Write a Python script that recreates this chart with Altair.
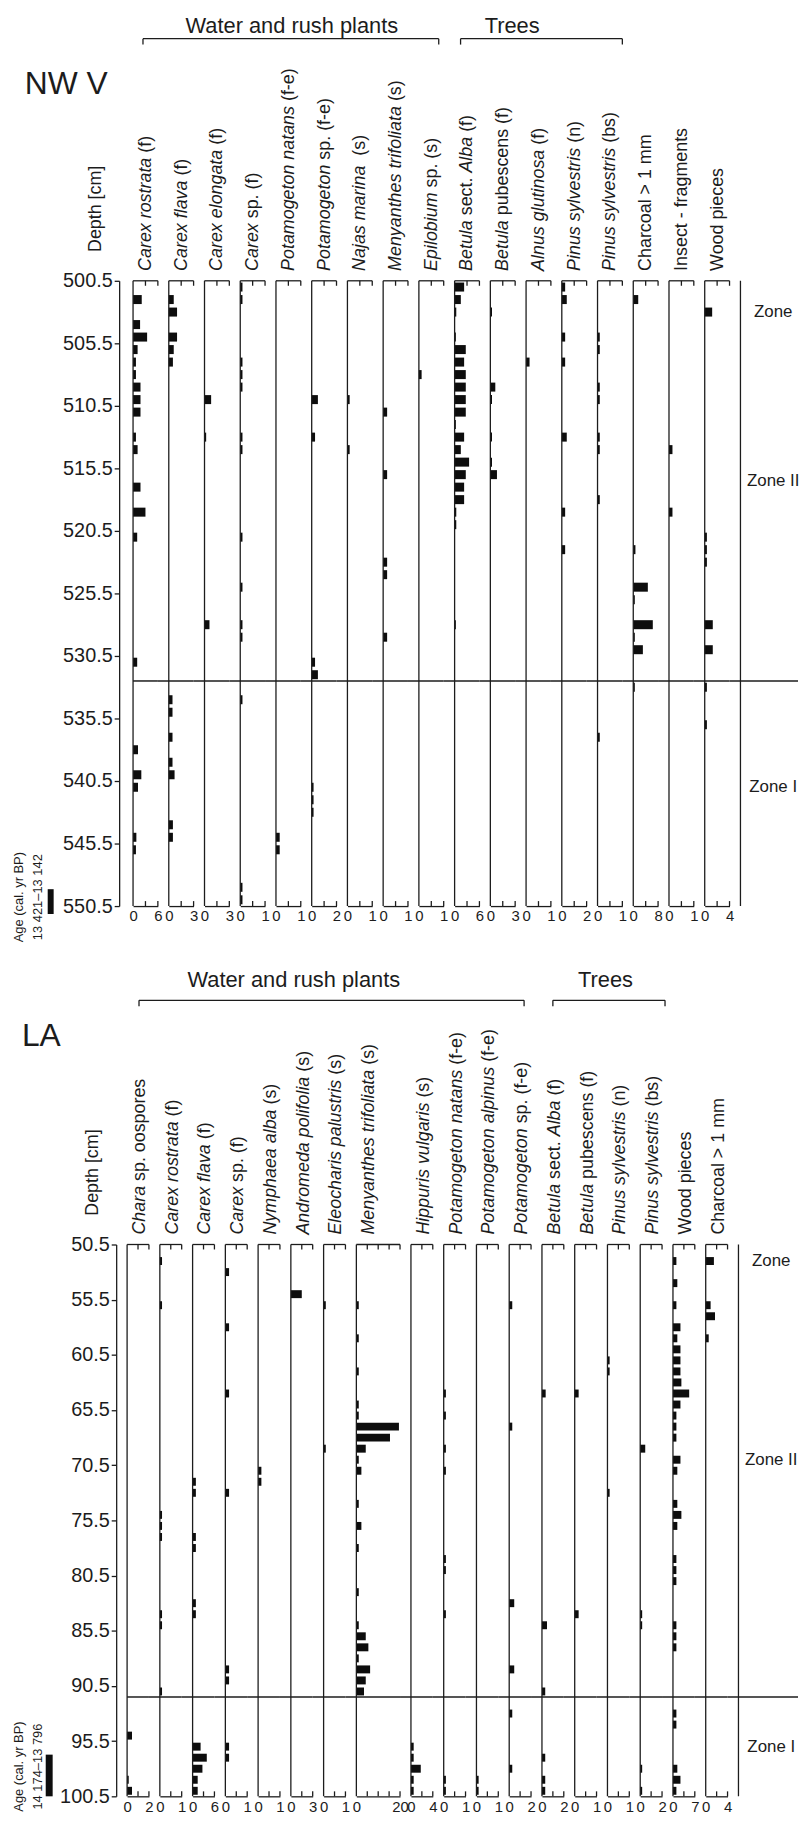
import altair as alt
import pandas as pd

FONT = "Liberation Sans"
INK = "#1c1c1c"
BAR = "#0d0d0d"

# ============================ NW V profile ============================
NWV_NAME = "NW V"
NWV_DEPTH_DOMAIN = [500.5, 550.5]
NWV_DEPTH_TICKS = [500.5, 505.5, 510.5, 515.5, 520.5, 525.5, 530.5, 535.5, 540.5, 545.5, 550.5]
NWV_ZONE_BOUNDARY = 532.5
NWV_ZONE_NAMES = ["Zone", "Zone II", "Zone I"]
NWV_ZONE_DEPTHS = [503.0, 516.5, 541.0]
NWV_AGE_TEXT = ["Age (cal. yr BP)", "13 421\u201313 142"]
NWV_GROUPS = ["Water and rush plants", "Trees"]

NWV_LABELS = [
    [("Carex rostrata", 1), (" (f)", 0)],
    [("Carex flava", 1), (" (f)", 0)],
    [("Carex elongata", 1), (" (f)", 0)],
    [("Carex", 1), (" sp. (f)", 0)],
    [("Potamogeton natans", 1), (" (f-e)", 0)],
    [("Potamogeton", 1), (" sp. (f-e)", 0)],
    [("Najas marina", 1), ("  (s)", 0)],
    [("Menyanthes trifoliata", 1), (" (s)", 0)],
    [("Epilobium", 1), (" sp. (s)", 0)],
    [("Betula", 1), (" sect. ", 0), ("Alba", 1), (" (f)", 0)],
    [("Betula", 1), (" pubescens (f)", 0)],
    [("Alnus glutinosa", 1), (" (f)", 0)],
    [("Pinus sylvestris", 1), (" (n)", 0)],
    [("Pinus sylvestris", 1), (" (bs)", 0)],
    [("Charcoal > 1 mm", 0)],
    [("Insect - fragments", 0)],
    [("Wood pieces", 0)],
]
NWV_MAX = [6, 3, 3, 1, 1, 2, 1, 1, 1, 6, 3, 1, 2, 1, 8, 1, 4]

NWV_CAREX_ROSTRATA = [(502, 2.1), (504, 1.7), (505, 3.4), (506, 1.1), (507, 0.7), (508, 0.7),
                      (509, 1.8), (510, 1.8), (511, 1.8), (513, 0.7), (514, 1.1), (517, 1.8),
                      (519, 3.0), (521, 1.0), (531, 1.0), (538, 1.2), (540, 2.0), (541, 1.2),
                      (545, 0.8), (546, 0.7)]
NWV_CAREX_FLAVA = [(502, 0.6), (503, 1.0), (505, 1.0), (506, 0.6), (507, 0.5), (534, 0.45),
                   (535, 0.45), (537, 0.45), (539, 0.45), (540, 0.7), (544, 0.5), (545, 0.5)]
NWV_CAREX_ELONGATA = [(510, 0.8), (513, 0.2), (528, 0.6)]
NWV_CAREX_SP = [(501, 0.09), (502, 0.09), (507, 0.09), (508, 0.09), (509, 0.09), (513, 0.09),
                (514, 0.09), (521, 0.09), (525, 0.09), (528, 0.09), (529, 0.09), (534, 0.09),
                (549, 0.09), (550, 0.09)]
NWV_POTAMOGETON_NATANS = [(545, 0.15), (546, 0.15)]
NWV_POTAMOGETON_SP = [(510, 0.5), (513, 0.27), (531, 0.27), (532, 0.5), (541, 0.15),
                      (542, 0.15), (543, 0.15)]
NWV_NAJAS_MARINA = [(510, 0.09), (514, 0.09)]
NWV_MENYANTHES = [(511, 0.16), (516, 0.16), (523, 0.16), (524, 0.16), (529, 0.16)]
NWV_EPILOBIUM = [(508, 0.11)]
NWV_BETULA_ALBA = [(501, 2.3), (502, 1.5), (503, 0.4), (505, 0.3), (506, 2.7), (507, 2.3),
                   (508, 2.7), (509, 2.7), (510, 2.7), (511, 2.7), (512, 0.3), (513, 2.3),
                   (514, 1.5), (515, 3.5), (516, 2.7), (517, 2.3), (518, 2.3), (519, 0.4),
                   (520, 0.4), (528, 0.3)]
NWV_BETULA_PUBESCENS = [(503, 0.2), (509, 0.6), (510, 0.2), (513, 0.2), (515, 0.2), (516, 0.8)]
NWV_ALNUS = [(507, 0.14)]
NWV_PINUS_N = [(501, 0.27), (502, 0.4), (505, 0.27), (507, 0.27), (513, 0.4), (519, 0.27),
               (522, 0.27)]
NWV_PINUS_BS = [(505, 0.09), (506, 0.09), (509, 0.09), (510, 0.09), (513, 0.09), (514, 0.09),
                (518, 0.09), (537, 0.09)]
NWV_CHARCOAL = [(502, 1.6), (522, 0.7), (525, 4.7), (526, 0.5), (528, 6.3), (529, 0.5),
                (530, 3.1), (533, 0.5)]
NWV_INSECT = [(514, 0.14), (519, 0.14)]
NWV_WOOD = [(503, 1.2), (521, 0.35), (522, 0.35), (523, 0.35), (528, 1.3), (530, 1.3),
            (533, 0.35), (536, 0.35)]

NWV_SERIES = [NWV_CAREX_ROSTRATA, NWV_CAREX_FLAVA, NWV_CAREX_ELONGATA, NWV_CAREX_SP,
              NWV_POTAMOGETON_NATANS, NWV_POTAMOGETON_SP, NWV_NAJAS_MARINA, NWV_MENYANTHES,
              NWV_EPILOBIUM, NWV_BETULA_ALBA, NWV_BETULA_PUBESCENS, NWV_ALNUS, NWV_PINUS_N,
              NWV_PINUS_BS, NWV_CHARCOAL, NWV_INSECT, NWV_WOOD]

# ============================ LA profile ============================
LA_NAME = "LA"
LA_DEPTH_DOMAIN = [50.5, 100.5]
LA_DEPTH_TICKS = [50.5, 55.5, 60.5, 65.5, 70.5, 75.5, 80.5, 85.5, 90.5, 95.5, 100.5]
LA_ZONE_BOUNDARY = 91.5
LA_ZONE_NAMES = ["Zone", "Zone II", "Zone I"]
LA_ZONE_DEPTHS = [52.0, 70.0, 96.0]
LA_AGE_TEXT = ["Age (cal. yr BP)", "14 174\u201313 796"]
LA_GROUPS = ["Water and rush plants", "Trees"]

LA_LABELS = [
    [("Chara", 1), (" sp. oospores", 0)],
    [("Carex rostrata", 1), (" (f)", 0)],
    [("Carex flava", 1), (" (f)", 0)],
    [("Carex", 1), (" sp. (f)", 0)],
    [("Nymphaea alba", 1), (" (s)", 0)],
    [("Andromeda polifolia", 1), (" (s)", 0)],
    [("Eleocharis palustris", 1), (" (s)", 0)],
    [("Menyanthes trifoliata", 1), (" (s)", 0)],
    [("Hippuris vulgaris", 1), (" (s)", 0)],
    [("Potamogeton natans", 1), (" (f-e)", 0)],
    [("Potamogeton alpinus", 1), (" (f-e)", 0)],
    [("Potamogeton", 1), (" sp. (f-e)", 0)],
    [("Betula", 1), (" sect. ", 0), ("Alba", 1), (" (f)", 0)],
    [("Betula", 1), (" pubescens (f)", 0)],
    [("Pinus sylvestris", 1), (" (n)", 0)],
    [("Pinus sylvestris", 1), (" (bs)", 0)],
    [("Wood pieces", 0)],
    [("Charcoal > 1 mm", 0)],
]
LA_MAX = [2, 1, 6, 1, 1, 3, 1, 20, 4, 1, 1, 2, 2, 1, 1, 2, 7, 4]
LA_MENYANTHES_TICKS = [5, 10, 15, 20]

LA_CHARA = [(95, 0.45), (99, 0.15), (100, 0.45)]
LA_CAREX_ROSTRATA = [(52, 0.1), (56, 0.1), (75, 0.1), (76, 0.1), (77, 0.1), (84, 0.1), (85, 0.1),
                     (91, 0.1)]
LA_CAREX_FLAVA = [(72, 0.9), (73, 0.9), (77, 0.9), (78, 0.9), (83, 0.9), (84, 0.9), (96, 2.2),
                  (97, 3.9), (98, 2.7), (99, 1.4), (100, 1.4)]
LA_CAREX_SP = [(53, 0.17), (58, 0.17), (64, 0.17), (73, 0.17), (89, 0.17), (90, 0.17), (96, 0.17),
               (97, 0.17)]
LA_NYMPHAEA = [(71, 0.15), (72, 0.15)]
LA_ANDROMEDA = [(55, 1.5)]
LA_ELEOCHARIS = [(56, 0.1), (69, 0.1)]
LA_MENYANTHES = [(56, 1.1), (59, 1.1), (62, 1.1), (65, 1.1), (66, 1.1), (67, 19.5), (68, 15.4),
                 (69, 4.3), (70, 1.1), (71, 2.3), (74, 1.1), (76, 2.3), (78, 1.1), (82, 1.1),
                 (85, 1.1), (86, 4.3), (87, 5.5), (88, 1.1), (89, 6.3), (90, 4.3), (91, 3.5)]
LA_HIPPURIS = [(96, 0.5), (97, 0.5), (98, 1.8), (99, 0.5), (100, 0.5)]
LA_POTAMOGETON_NATANS = [(64, 0.1), (66, 0.1), (69, 0.1), (71, 0.1), (79, 0.1), (80, 0.1),
                         (84, 0.1), (99, 0.1), (100, 0.1)]
LA_POTAMOGETON_ALPINUS = [(99, 0.1), (100, 0.1)]
LA_POTAMOGETON_SP = [(56, 0.28), (67, 0.28), (83, 0.46), (89, 0.46), (93, 0.28), (98, 0.28)]
LA_BETULA_ALBA = [(64, 0.34), (85, 0.46), (91, 0.3), (97, 0.3), (99, 0.3), (100, 0.3)]
LA_BETULA_PUBESCENS = [(64, 0.18), (84, 0.18)]
LA_PINUS_N = [(61, 0.1), (62, 0.1), (73, 0.1)]
LA_PINUS_BS = [(69, 0.46), (84, 0.18), (85, 0.18), (98, 0.18), (100, 0.18)]
LA_WOOD = [(52, 1.1), (54, 1.4), (56, 1.1), (58, 2.4), (59, 1.4), (60, 2.4), (61, 2.4), (62, 2.4),
           (63, 2.7), (64, 5.2), (65, 2.4), (66, 1.1), (67, 1.1), (68, 1.1), (70, 2.4), (71, 1.4),
           (74, 1.4), (75, 2.7), (76, 1.4), (79, 1.1), (80, 1.1), (81, 1.1), (85, 1.1), (86, 1.1),
           (87, 1.1), (93, 1.1), (94, 1.1), (98, 1.4), (99, 2.4), (100, 1.1)]
LA_CHARCOAL = [(52, 1.5), (56, 0.9), (57, 1.7), (59, 0.55)]

LA_SERIES = [LA_CHARA, LA_CAREX_ROSTRATA, LA_CAREX_FLAVA, LA_CAREX_SP, LA_NYMPHAEA, LA_ANDROMEDA,
             LA_ELEOCHARIS, LA_MENYANTHES, LA_HIPPURIS, LA_POTAMOGETON_NATANS,
             LA_POTAMOGETON_ALPINUS, LA_POTAMOGETON_SP, LA_BETULA_ALBA, LA_BETULA_PUBESCENS,
             LA_PINUS_N, LA_PINUS_BS, LA_WOOD, LA_CHARCOAL]

# ============================ layout ============================
GAP = 11
TOP_W, BOT_W, BOT_WIDE = 25, 22, 44
TOP_H, BOT_H = 630, 556
TOP_MARK, BOT_MARK = 680, -281          # invisible extents that fix the vertical layout
ROW_GAP = (1245 - 274) - TOP_MARK + BOT_MARK
TICK_LEN = 5
LW = 1.3
HALF_BAR = 0.36
LABEL_SIZE = 18
GROUP_SIZE = 22
DEPTH_TITLE_SIZE = 18
DEPTH_LABEL_SIZE = 20

ARIAL = {' ': 278, '(': 333, ')': 333, '-': 333, '.': 278, '>': 584,
         'a': 556, 'b': 556, 'c': 500, 'd': 556, 'e': 556, 'f': 278, 'g': 556, 'h': 556, 'i': 222,
         'j': 222, 'k': 500, 'l': 222, 'm': 833, 'n': 556, 'o': 556, 'p': 556, 'q': 556, 'r': 333,
         's': 500, 't': 278, 'u': 556, 'v': 500, 'w': 722, 'x': 500, 'y': 500, 'z': 500,
         'A': 667, 'B': 667, 'C': 722, 'D': 722, 'E': 667, 'H': 722, 'I': 278, 'M': 833, 'N': 722,
         'P': 667, 'W': 944}

ONE = pd.DataFrame({"k": [0]})


def text_width(s, size):
    return sum(ARIAL.get(c, 556) for c in s) * size / 1000.0


def label_layers(segs, x, y, size):
    out = []
    off = 0.0
    for t, ital in segs:
        lead = len(t) - len(t.lstrip(" "))
        body = t.strip(" ")
        out.append(alt.Chart(ONE).mark_text(
            text=body, angle=270, align="left", baseline="middle",
            dx=off + text_width(t[:lead], size), font=FONT, fontSize=size,
            fontStyle="italic" if ital else "normal", color=INK
        ).encode(x=alt.value(x), y=alt.value(y)))
        off += text_width(t, size)
    return out


def txt(s, x, y, size, align="center", angle=0):
    kw = dict(text=s, align=align, baseline="middle", font=FONT, fontSize=size, color=INK)
    if angle:
        kw["angle"] = angle
    return alt.Chart(ONE).mark_text(**kw).encode(x=alt.value(x), y=alt.value(y))


def hrule(x, x2, y, w=LW, opacity=1):
    return alt.Chart(ONE).mark_rule(color=INK, strokeWidth=w, opacity=opacity).encode(
        x=alt.value(x), x2=alt.value(x2), y=alt.value(y))


def vrule(x, y, y2, w=LW):
    return alt.Chart(ONE).mark_rule(color=INK, strokeWidth=w).encode(
        x=alt.value(x), y=alt.value(y), y2=alt.value(y2))


def bracket(x1, x2, y):
    return [hrule(x1, x2, y), vrule(x1, y, y + 6), vrule(x2, y, y + 6)]


def fmt(v):
    return str(int(v)) if float(v).is_integer() else str(v)


def column(segs, pairs, m, ticks, W, H, dom, dticks, zone_b, first, axis_offset, extra):
    df = pd.DataFrame(pairs, columns=["depth", "value"])
    xs = alt.Scale(domain=[0, m], nice=False, zero=False)
    ys = alt.Scale(domain=dom, reverse=True, nice=False, zero=False)
    if first:
        yaxis = alt.Axis(orient="left", offset=axis_offset, values=dticks, format=".1f",
                         labelFontSize=DEPTH_LABEL_SIZE, labelFont=FONT, labelColor=INK,
                         labelPadding=2, tickSize=5, tickWidth=LW, tickColor=INK, domain=True,
                         domainColor=INK, domainWidth=LW, grid=False, title=None,
                         labelOverlap=False)
    else:
        yaxis = None
    xaxis = alt.Axis(orient="bottom", values=[0] + ticks, ticks=False, domain=True,
                     domainColor=INK, domainWidth=LW, grid=False, title=None,
                     labelExpr=f"datum.value == 0 ? '0' : (datum.value == {m} ? '{fmt(m)}' : '')",
                     labelFontSize=15, labelFont=FONT, labelColor=INK, labelPadding=3,
                     labelFlush=False, labelOverlap=False, labelBound=False)
    bars = alt.Chart(df).transform_calculate(
        d0=f"datum.depth - {HALF_BAR}", d1=f"datum.depth + {HALF_BAR}", z="0"
    ).mark_rect(color=BAR).encode(
        x=alt.X("z:Q", scale=xs, axis=xaxis),
        x2="value:Q",
        y=alt.Y("d0:Q", scale=ys, axis=yaxis),
        y2="d1:Q",
    )
    tdf = pd.DataFrame({"t": ticks})
    top_ticks = alt.Chart(tdf).mark_rule(color=INK, strokeWidth=LW).encode(
        x=alt.X("t:Q", scale=xs, axis=xaxis), y=alt.value(0), y2=alt.value(TICK_LEN))
    bot_ticks = alt.Chart(tdf).mark_rule(color=INK, strokeWidth=LW).encode(
        x=alt.X("t:Q", scale=xs, axis=xaxis), y=alt.value(H - TICK_LEN), y2=alt.value(H))
    zone = alt.Chart(pd.DataFrame({"b": [zone_b]})).mark_rule(color=INK, strokeWidth=1.5).encode(
        x=alt.value(0 if first else -GAP), x2=alt.value(W),
        y=alt.Y("b:Q", scale=ys, axis=yaxis))
    layers = [bars, vrule(0, 0, H), hrule(0, W, 0), top_ticks, bot_ticks, zone]
    layers += label_layers(segs, 13, -10, LABEL_SIZE)
    layers += extra
    return alt.layer(*layers).properties(width=W, height=H)


def zone_chart(names, depths, dom, zone_b, W, H):
    ys = alt.Scale(domain=dom, reverse=True, nice=False, zero=False)
    zdf = pd.DataFrame({"label": names, "depth": depths})
    labels = alt.Chart(zdf).mark_text(align="center", baseline="middle", font=FONT,
                                      fontSize=17, color=INK).encode(
        x=alt.value(33), y=alt.Y("depth:Q", scale=ys, axis=None), text="label:N")
    zone = alt.Chart(pd.DataFrame({"b": [zone_b]})).mark_rule(color=INK, strokeWidth=1.5).encode(
        x=alt.value(-GAP), x2=alt.value(W), y=alt.Y("b:Q", scale=ys, axis=None))
    return alt.layer(vrule(0, 0, H), zone, labels).properties(width=W, height=H)


def spacer(W, H):
    return alt.Chart(ONE).mark_point(opacity=0).encode(
        x=alt.value(0), y=alt.value(0)).properties(width=W, height=H)


# ---------- annotations attached to the first column of each profile ----------
top_extra = [
    hrule(-126, -125, -266, opacity=0),          # fixes top-left corner of the page
    hrule(0, 1, TOP_MARK, opacity=0),            # fixes lower extent of the NW V block
    txt(NWV_GROUPS[0], 160, -257, GROUP_SIZE),
    txt(NWV_GROUPS[1], 382, -257, GROUP_SIZE),
    *bracket(10, 308, -244),
    *bracket(330, 493, -244),
    txt(NWV_NAME, -109, -198, 32, align="left"),
    txt("Depth [cm]", -37, -29, DEPTH_TITLE_SIZE, align="left", angle=270),
    txt(NWV_AGE_TEXT[0], -115, 621, 13, angle=270),
    txt(NWV_AGE_TEXT[1], -96, 621, 13, angle=270),
    alt.Chart(ONE).mark_rect(color=BAR).encode(
        x=alt.value(-86), x2=alt.value(-80), y=alt.value(613), y2=alt.value(638)),
]
bot_extra = [
    hrule(0, 1, BOT_MARK, opacity=0),            # fixes upper extent of the LA block
    txt(LA_GROUPS[0], 168, -266, GROUP_SIZE),
    txt(LA_GROUPS[1], 482, -266, GROUP_SIZE),
    *bracket(12, 400, -246),
    *bracket(429, 542, -246),
    txt(LA_NAME, -106, -210, 32, align="left"),
    txt("Depth [cm]", -34, -29, DEPTH_TITLE_SIZE, align="left", angle=270),
    txt(LA_AGE_TEXT[0], -109, 526, 13, angle=270),
    txt(LA_AGE_TEXT[1], -90, 526, 13, angle=270),
    alt.Chart(ONE).mark_rect(color=BAR).encode(
        x=alt.value(-82), x2=alt.value(-75), y=alt.value(514), y2=alt.value(BOT_H)),
]

top_cells = [spacer(7, TOP_H)]
for i, (segs, pairs, m) in enumerate(zip(NWV_LABELS, NWV_SERIES, NWV_MAX)):
    top_cells.append(column(segs, pairs, m, [m / 2, m], TOP_W, TOP_H, NWV_DEPTH_DOMAIN,
                            NWV_DEPTH_TICKS, NWV_ZONE_BOUNDARY, i == 0, 14,
                            top_extra if i == 0 else []))
top_cells.append(zone_chart(NWV_ZONE_NAMES, NWV_ZONE_DEPTHS, NWV_DEPTH_DOMAIN,
                            NWV_ZONE_BOUNDARY, 58, TOP_H))

bot_cells = [spacer(1, BOT_H)]
for i, (segs, pairs, m) in enumerate(zip(LA_LABELS, LA_SERIES, LA_MAX)):
    wide = (i == 7)
    ticks = LA_MENYANTHES_TICKS if wide else [m / 2, m]
    bot_cells.append(column(segs, pairs, m, ticks, BOT_WIDE if wide else BOT_W, BOT_H,
                            LA_DEPTH_DOMAIN, LA_DEPTH_TICKS, LA_ZONE_BOUNDARY, i == 0, 11,
                            bot_extra if i == 0 else []))
bot_cells.append(zone_chart(LA_ZONE_NAMES, LA_ZONE_DEPTHS, LA_DEPTH_DOMAIN, LA_ZONE_BOUNDARY,
                            60, BOT_H))

top_row = alt.hconcat(*top_cells, spacing=GAP, bounds="flush")
bot_row = alt.hconcat(*bot_cells, spacing=GAP, bounds="flush")

chart = alt.vconcat(top_row, bot_row, spacing=ROW_GAP).properties(
    padding=0
).configure_view(stroke=None)

chart.save("out.html", embed_options={"renderer": "svg", "actions": False})
